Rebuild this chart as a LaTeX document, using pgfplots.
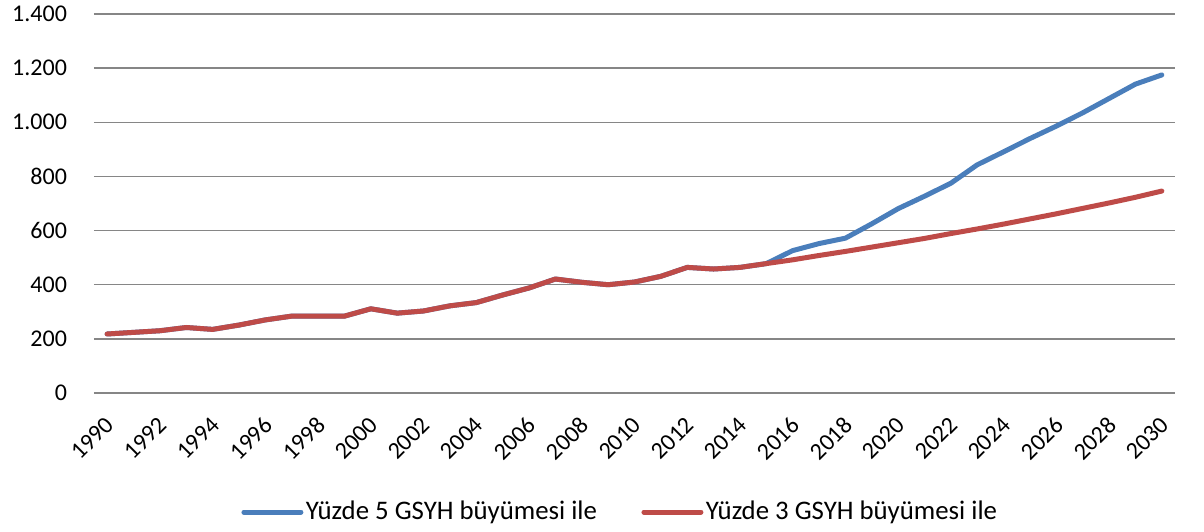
\documentclass[border=0pt]{standalone}
\usepackage{pgfplots}
\pgfplotsset{compat=1.18}
\usepackage{fontspec}
\setmainfont{Carlito}
\definecolor{xlblue}{HTML}{4A7EBB}
\definecolor{xlred}{HTML}{BE4B48}
\definecolor{gridc}{HTML}{868686}
\begin{document}
\begin{tikzpicture}
\begin{axis}[
  scale only axis,
  width=540.5pt, height=189.5pt,
  xmin=1989.5, xmax=2030.5,
  ymin=0, ymax=1400,
  xtick={1990,1992,...,2030},
  ytick={0,200,...,1400},
  ymajorgrids,
  grid style={gridc, line width=0.75pt},
  axis line style={draw=none},
  major tick length=0pt,
  tick label style={font=\fontsize{12}{14}\selectfont},
  /pgf/number format/assume math mode=true,
  /pgf/number format/1000 sep={.},
  xticklabel={\pgfmathprintnumber[1000 sep={}]{\tick}},
  x tick label style={xshift=-1.5pt, yshift=-11pt, rotate=45, anchor=north east, inner sep=0pt},
  y tick label style={anchor=east, xshift=-10pt},
  legend style={draw=none, at={(axis description cs:0.487,-0.314)}, anchor=center,
    legend columns=2, font=\fontsize{13.4}{15}\selectfont,
    nodes={inner xsep=1.2pt},
    /tikz/every even column/.append style={column sep=21pt}},
  legend image code/.code={\draw[#1, line width=2.5pt, line cap=round] (0pt,0pt) -- (28.5pt,0pt);},
]
\addplot[xlblue, line width=2.5pt, line join=round, line cap=round] coordinates {
(1990,218) (1991,224) (1992,230) (1993,242) (1994,235) (1995,251) (1996,270) (1997,284)
(1998,284) (1999,284) (2000,311) (2001,295) (2002,303) (2003,322) (2004,334) (2005,362)
(2006,388) (2007,421) (2008,409) (2009,400) (2010,410) (2011,431) (2012,464) (2013,458)
(2014,464) (2015,478) (2016,526) (2017,552) (2018,572) (2019,625) (2020,681) (2021,727)
(2022,775) (2023,843) (2024,891) (2025,940) (2026,986) (2027,1035) (2028,1088) (2029,1141)
(2030,1175)};
\addlegendentry{Yüzde 5 GSYH büyümesi ile}
\addplot[xlred, line width=2.5pt, line join=round, line cap=round] coordinates {
(1990,218) (1991,224) (1992,230) (1993,242) (1994,235) (1995,251) (1996,270) (1997,284)
(1998,284) (1999,284) (2000,311) (2001,295) (2002,303) (2003,322) (2004,334) (2005,362)
(2006,388) (2007,421) (2008,409) (2009,400) (2010,410) (2011,431) (2012,464) (2013,458)
(2014,464) (2015,478) (2016,492) (2017,508) (2018,523) (2019,539) (2020,555) (2021,571)
(2022,589) (2023,606) (2024,624) (2025,643) (2026,662) (2027,682) (2028,702) (2029,723)
(2030,746)};
\addlegendentry{Yüzde 3 GSYH büyümesi ile}
\end{axis}
\pgfresetboundingbox
\path (-47pt,-69pt) rectangle (555pt,196.5pt);
\end{tikzpicture}
\end{document}
